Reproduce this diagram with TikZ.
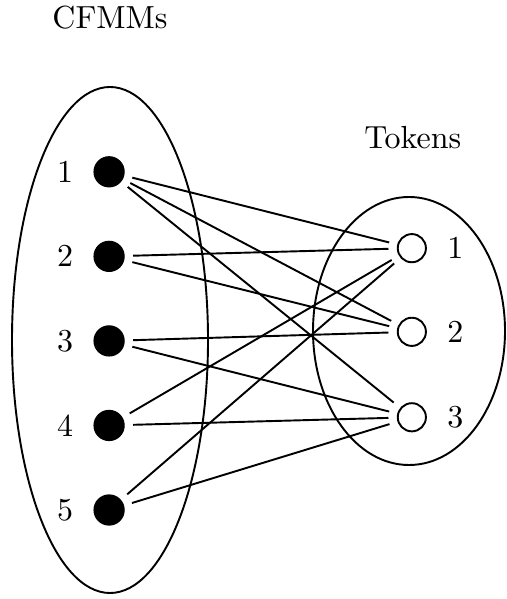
\documentclass[tikz,border=0pt]{standalone}
\usepackage{tikz}
\usetikzlibrary{positioning}
\tikzset{
    % --- CFMM 节点 ---
    cfmmNode/.style={
        circle, fill=black, draw=black,
        minimum size=0.33cm, inner sep=0pt
    },
    % --- Token 节点 ---
    tokenNode/.style={
        circle, draw=black, fill=white, semithick,
        minimum size=0.31cm, inner sep=0pt
    },
    % --- 集合椭圆 ---
    setShape/.style={
        draw=black, semithick
    },
    % --- 连线 ---
    conn/.style={
        draw=black, semithick,
        shorten <=2.6pt, shorten >=2.6pt
    }
}

\begin{document}
\begin{tikzpicture}

	\useasboundingbox (0,0) rectangle (5.566,-6.589);

	% =========================================
	% 1. 两个集合
	% =========================================
	\draw[setShape] (1.21,-3.74) ellipse [x radius=1.078, y radius=2.783];
	\draw[setShape] (4.499,-3.641) ellipse [x radius=1.056, y radius=1.474];

	\node (cfmmTitle) at (1.21,-0.19) {CFMMs};
	\node (tokenTitle) at (4.54,-1.51) {Tokens};

	% --- CFMMs (左) ---
	\foreach \i/\y in {1/-1.89, 2/-2.82, 3/-3.75, 4/-4.68, 5/-5.61} {
		\node[cfmmNode] (c\i) at (1.20,\y) {};
		\node[left=0.1cm of c\i] (cl\i) {\i};
	}

	% --- Tokens (右) ---
	\foreach \j/\y in {1/-2.73, 2/-3.65, 3/-4.59} {
		\node[tokenNode] (t\j) at (4.53,\y) {};
		\node[right=0.1cm of t\j] (tl\j) {\j};
	}

	% =========================================
	% 2. 连线
	% =========================================
	\foreach \a/\b in {1/1, 1/2, 1/3, 2/1, 2/2, 3/2, 3/3, 4/1, 4/3, 5/1, 5/3} {
		\draw[conn] (c\a) -- (t\b);
	}

\end{tikzpicture}
\end{document}
